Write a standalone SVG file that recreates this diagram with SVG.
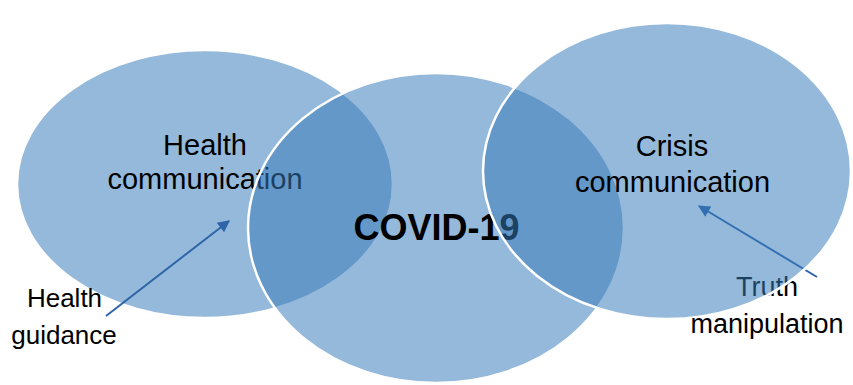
<svg xmlns="http://www.w3.org/2000/svg" width="853" height="385" viewBox="0 0 853 385">
  <style>
    .circ { fill: #377BB9; fill-opacity: 0.53; stroke: #FFFFFF; stroke-width: 2.5; }
    .lbl { font-family: "Liberation Sans", Arial, sans-serif; fill: #000000; text-anchor: middle; }
    .arrow { stroke: #2E64A8; stroke-width: 2; fill: none; marker-end: url(#ah); }
  </style>
  <defs>
    <marker id="ah" viewBox="0 0 10 10" refX="9" refY="5" markerWidth="7" markerHeight="6" markerUnits="strokeWidth" orient="auto">
      <path d="M0,0 L10,5 L0,10 z" fill="#2E64A8"/>
    </marker>
  </defs>
  <rect width="853" height="385" fill="#FFFFFF"/>

  <g id="health-communication">
    <ellipse class="circ" cx="205" cy="184" rx="188" ry="134"/>
    <text class="lbl" x="205" y="155" font-size="29">Health</text>
    <text class="lbl" x="205" y="189" font-size="29">communication</text>
  </g>

  <g id="connectors-1">
    <line class="arrow" x1="106" y1="316" x2="229" y2="221"/>
  </g>

  <g id="covid-19">
    <ellipse class="circ" cx="436" cy="228" rx="188" ry="155"/>
    <text class="lbl" x="436.5" y="240" font-size="36" font-weight="bold">COVID-19</text>
  </g>

  <g id="connectors-2">
    <line class="arrow" x1="817" y1="277" x2="699" y2="206"/>
  </g>

  <g id="truth-manipulation">
    <text class="lbl" x="767" y="296" font-size="27">Truth</text>
  </g>

  <g id="crisis-communication">
    <ellipse class="circ" cx="667" cy="171" rx="184" ry="148"/>
    <text class="lbl" x="672" y="156" font-size="29">Crisis</text>
    <text class="lbl" x="672.5" y="192" font-size="29">communication</text>
  </g>

  <g id="truth-manipulation-2">
    <text class="lbl" x="767" y="333" font-size="27">manipulation</text>
  </g>

  <g id="health-guidance">
    <text class="lbl" x="64.5" y="307" font-size="26">Health</text>
    <text class="lbl" x="64" y="344" font-size="26">guidance</text>
  </g>
</svg>
